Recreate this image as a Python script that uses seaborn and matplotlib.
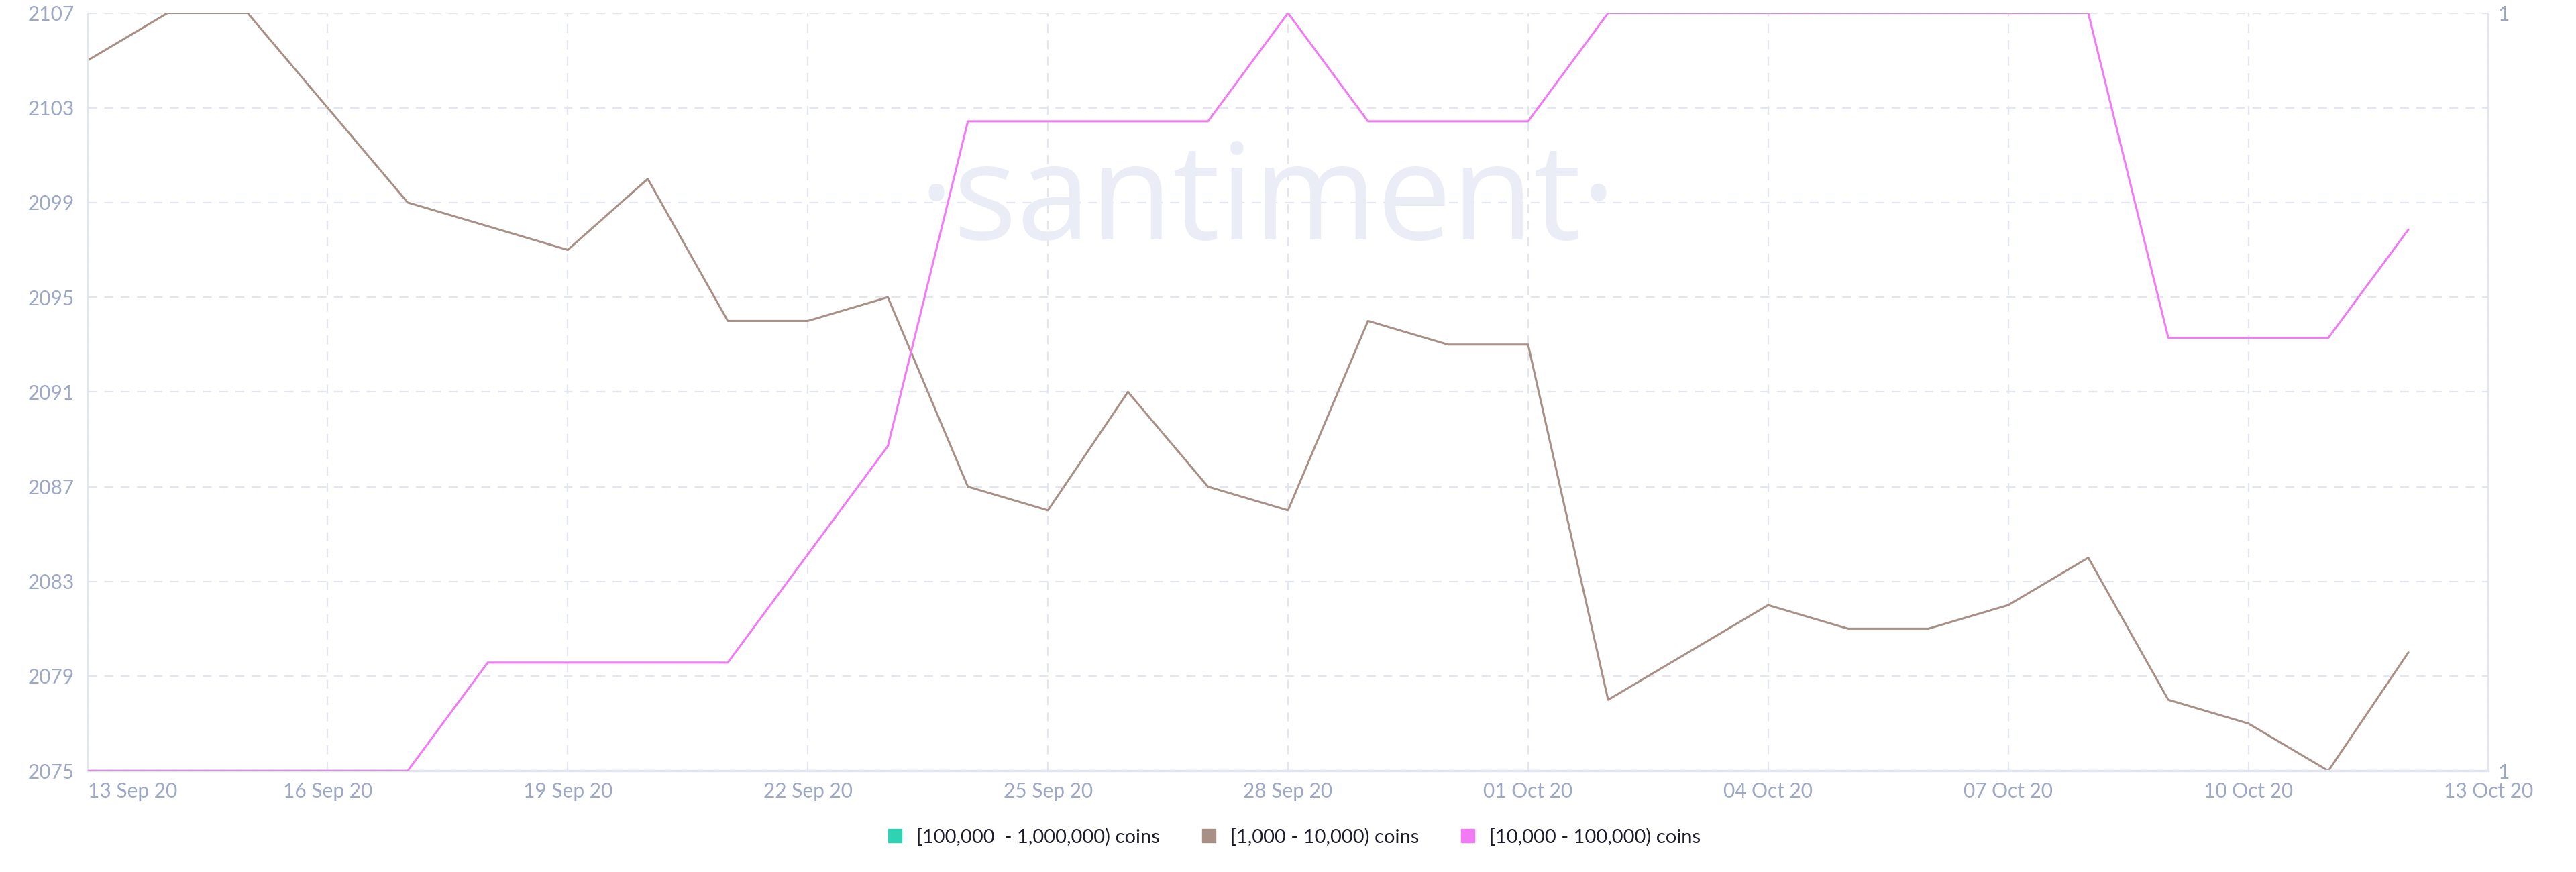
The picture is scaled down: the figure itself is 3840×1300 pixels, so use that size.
import numpy as np
import pandas as pd
import matplotlib
matplotlib.use("Agg")
import matplotlib.pyplot as plt
import matplotlib.dates as mdates
from matplotlib import font_manager
from matplotlib.lines import Line2D
import seaborn as sns

# daily holder counts, 13 Sep 2020 .. 12 Oct 2020
dates = pd.date_range("2020-09-13", periods=30, freq="D")
holders_1k_10k = [2105, 2107, 2107, 2103, 2099, 2098, 2097, 2100, 2094, 2094,
                  2095, 2087, 2086, 2091, 2087, 2086, 2094, 2093, 2093, 2078,
                  2080, 2082, 2081, 2081, 2082, 2084, 2078, 2077, 2075, 2080]
holders_10k_100k = [1000, 1000, 1000, 1000, 1000, 1001, 1001, 1001, 1001, 1002,
                    1003, 1006, 1006, 1006, 1006, 1007, 1006, 1006, 1006, 1007,
                    1007, 1007, 1007, 1007, 1007, 1007, 1004, 1004, 1004, 1005]
legend_labels = ["[100,000  - 1,000,000) coins", "[1,000 - 10,000) coins",
                 "[10,000 - 100,000) coins"]
legend_colors = ["#2ed3b4", "#a89086", "#f27af5"]
left_ticks = [2075, 2079, 2083, 2087, 2091, 2095, 2099, 2103, 2107]

sns.set_style("white")
plt.rcParams["font.family"] = ["Lato", "DejaVu Sans"]

tick_color = "#9ea8c4"
grid_color = "#e3e6f1"

fig = plt.figure(figsize=(38.4, 13), dpi=100)
ax = fig.add_axes([0.034, 0.116, 0.932, 0.869])
ax2 = ax.twinx()

df = pd.DataFrame({"date": dates, "mid": holders_1k_10k, "big": holders_10k_100k})
sns.lineplot(data=df, x="date", y="mid", ax=ax, color=legend_colors[1], linewidth=2.2)
sns.lineplot(data=df, x="date", y="big", ax=ax2, color=legend_colors[2], linewidth=2.2)

ax.set_ylim(2075, 2107)
ax.set_yticks(left_ticks)
ax.set_xlim(pd.Timestamp("2020-09-13"), pd.Timestamp("2020-10-13"))
ax.xaxis.set_major_locator(mdates.DayLocator(bymonthday=[1, 4, 7, 10, 13, 16, 19, 22, 25, 28]))
ax.xaxis.set_major_formatter(mdates.DateFormatter("%d %b %y"))
ax.set_xlabel("")
ax.set_ylabel("")

ax2.set_ylim(1000, 1007)
ax2.set_yticks([1000, 1007])
ax2.set_yticklabels([str(round(v / 1000)) for v in [1000, 1007]])
ax2.set_ylabel("")

ax.grid(True, color=grid_color, linestyle=(0, (6, 5)), linewidth=1.6)
ax2.grid(False)
ax.set_axisbelow(True)

for a in (ax, ax2):
    for s in a.spines.values():
        s.set_visible(False)
ax.spines["left"].set_visible(True)
ax.spines["left"].set_color(grid_color)
ax.spines["left"].set_linewidth(1.6)
ax.spines["bottom"].set_visible(True)
ax.spines["bottom"].set_color(grid_color)
ax.spines["bottom"].set_linewidth(2.5)
ax2.spines["right"].set_visible(True)
ax2.spines["right"].set_color(grid_color)
ax2.spines["right"].set_linewidth(1.6)

ax.tick_params(axis="both", length=0, labelsize=21.5, labelcolor=tick_color)
ax.tick_params(axis="y", pad=14)
ax.tick_params(axis="x", pad=12)
ax2.tick_params(axis="y", length=0, labelsize=21.5, labelcolor=tick_color, pad=10)

fig.canvas.draw()
xl = ax.get_xticklabels()
xl[0].set_ha("left")

# watermark: narrow font if available
names = {f.name for f in font_manager.fontManager.ttflist}
narrow = "Liberation Sans Narrow" in names
wm_family = "Liberation Sans Narrow" if narrow else "Open Sans"
fig.text(0.492, 0.7254, "\u00b7santiment\u00b7", fontsize=176 if narrow else 143,
         color="#eaedf5", ha="center", va="baseline", family=wm_family, zorder=0)

handles = [Line2D([], [], marker="s", linestyle="", markersize=14, color=c)
           for c in legend_colors]
fig.legend(handles, legend_labels, loc="center", bbox_to_anchor=(0.5, 0.04),
           ncol=3, frameon=False, fontsize=21, handletextpad=0.1,
           columnspacing=1.5, labelcolor="#1c1c2b")

fig.savefig("out.png", dpi=100)
